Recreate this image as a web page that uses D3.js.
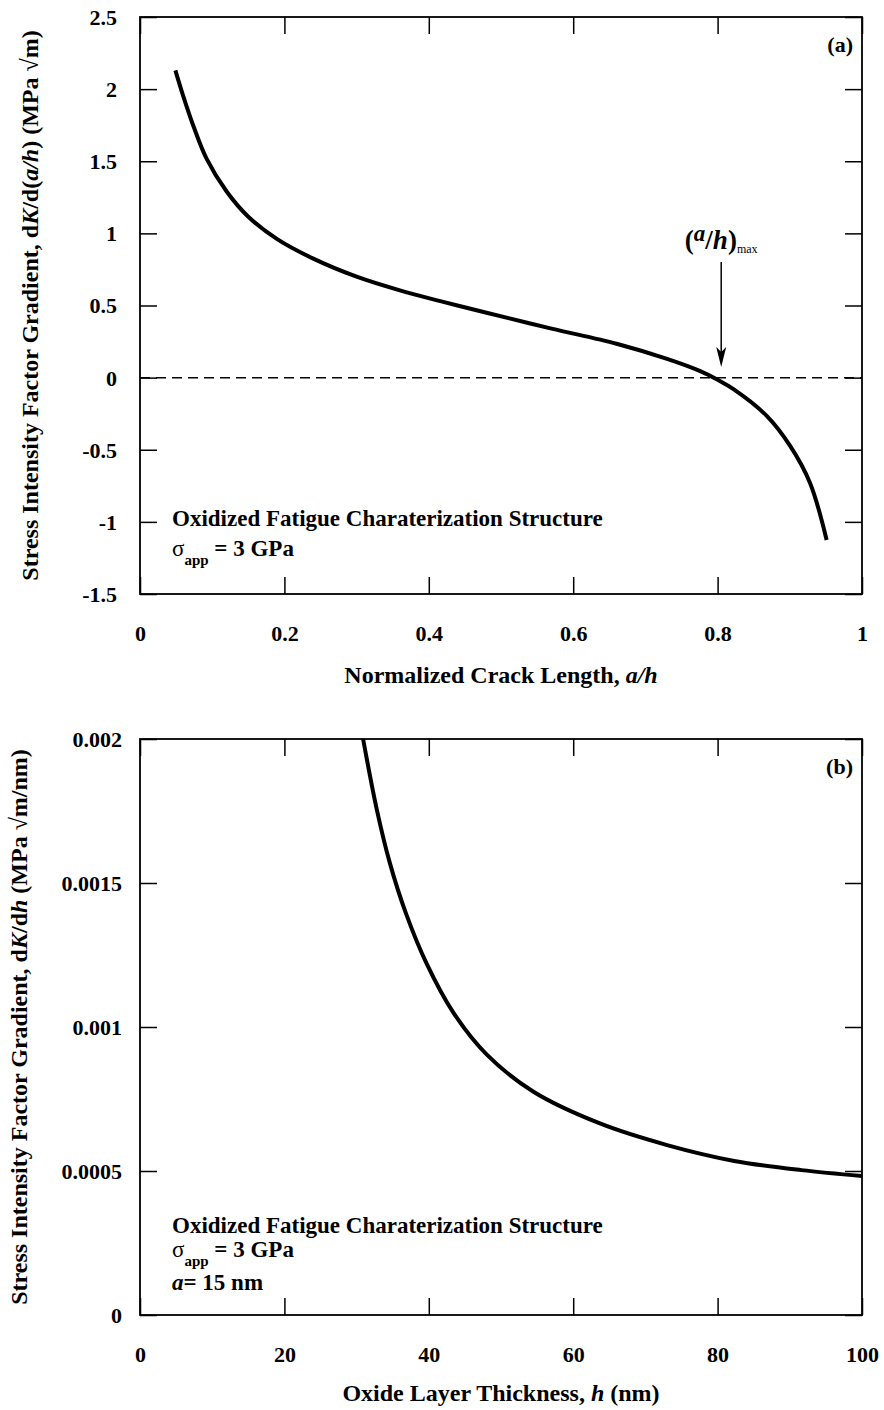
<!DOCTYPE html>
<html>
<head>
<meta charset="utf-8">
<script src="https://cdn.jsdelivr.net/npm/d3@7"></script>
<style>
  body { margin: 0; background: #fff; }
  svg text { font-family: "Liberation Serif", "Times New Roman", serif; font-weight: bold; fill: #000; }
</style>
</head>
<body>
<svg id="fig" width="884" height="1410"></svg>
<script>
// panel (a): dK/d(a/h) versus a/h
let crackLen = [0.049, 0.06, 0.075, 0.092, 0.12, 0.15, 0.19, 0.24, 0.30, 0.36, 0.42,
    0.48, 0.57, 0.66, 0.73, 0.776, 0.80, 0.822, 0.868, 0.90, 0.928, 0.951];
let gradA = [2.13, 1.95, 1.73, 1.52, 1.29, 1.115, 0.96, 0.825, 0.70, 0.605, 0.525,
    0.45, 0.34, 0.235, 0.13, 0.045, -0.015, -0.08, -0.265, -0.47, -0.73, -1.125];
let xTicksA = [0, 0.2, 0.4, 0.6, 0.8, 1];
let xLabelsA = ["0", "0.2", "0.4", "0.6", "0.8", "1"];
let yTicksA = [-1.5, -1, -0.5, 0, 0.5, 1, 1.5, 2, 2.5];
let yLabelsA = ["-1.5", "-1", "-0.5", "0", "0.5", "1", "1.5", "2", "2.5"];
let aMax = 0.805;

// panel (b): dK/dh versus h
let thickness = [30.9, 32.8, 34.6, 36.9, 39.7, 43.4, 48.0, 54.5, 63.7, 73, 82.3, 91.6, 100];
let gradB = [0.00200, 0.001755, 0.00157, 0.00139, 0.00122, 0.00105, 0.000905,
    0.000775, 0.000665, 0.000590, 0.000535, 0.000503, 0.000483];
let xTicksB = [0, 20, 40, 60, 80, 100];
let xLabelsB = ["0", "20", "40", "60", "80", "100"];
let yTicksB = [0, 0.0005, 0.001, 0.0015, 0.002];
let yLabelsB = ["0", "0.0005", "0.001", "0.0015", "0.002"];

let svg = d3.select("#fig");
let tickLen = 17;

function drawPanel(opt){
    let g = svg.append("g").attr("transform", "translate(" + opt.left + "," + opt.top + ")");
    let w = opt.right - opt.left;
    let h = opt.bottom - opt.top;

    let x = d3.scaleLinear().domain(opt.xDomain).range([0, w]);
    let y = d3.scaleLinear().domain(opt.yDomain).range([h, 0]);

    let xFmt = d => opt.xLabels[opt.xTicks.indexOf(d)];
    let yFmt = d => opt.yLabels[opt.yTicks.indexOf(d)];

    // inward ticks on all four sides
    let axB = g.append("g").attr("transform", "translate(0," + h + ")")
        .call(d3.axisBottom(x).tickValues(opt.xTicks).tickSize(-tickLen).tickSizeOuter(0)
            .tickFormat(xFmt));
    axB.selectAll("text").attr("y", opt.xLabelY).attr("dy", null).style("font-size", "22px");

    g.append("g")
        .call(d3.axisTop(x).tickValues(opt.xTicks).tickSize(-tickLen).tickSizeOuter(0).tickFormat(""));

    let axL = g.append("g")
        .call(d3.axisLeft(y).tickValues(opt.yTicks).tickSize(-tickLen).tickSizeOuter(0)
            .tickFormat(yFmt));
    axL.selectAll("text").attr("x", -opt.yLabelPad).attr("dy", "0.34em").style("font-size", "22px");

    g.append("g").attr("transform", "translate(" + w + ",0)")
        .call(d3.axisRight(y).tickValues(opt.yTicks).tickSize(-tickLen).tickSizeOuter(0).tickFormat(""));

    g.selectAll(".domain").remove();
    g.selectAll(".tick line").attr("stroke", "#000").attr("stroke-width", 1.5);

    g.append("rect")
        .attr("width", w).attr("height", h)
        .attr("fill", "none").attr("stroke", "#000").attr("stroke-width", 1.8);

    if (opt.zeroLine){
        g.append("line")
            .attr("x1", 0).attr("x2", w)
            .attr("y1", y(0)).attr("y2", y(0))
            .attr("stroke", "#000").attr("stroke-width", 1.5)
            .attr("stroke-dasharray", "10,6");
    }

    let line = d3.line()
        .x(d => x(d[0]))
        .y(d => y(d[1]))
        .curve(d3.curveCatmullRom.alpha(0.5));

    g.append("path")
        .datum(d3.zip(opt.xs, opt.ys))
        .attr("d", line)
        .attr("fill", "none")
        .attr("stroke", "#000")
        .attr("stroke-width", 4);

    // axis titles
    let xt = g.append("text")
        .attr("x", w / 2).attr("y", h + opt.xTitleY)
        .attr("text-anchor", "middle").style("font-size", "24px");
    opt.xTitle(xt);

    let yt = svg.append("text")
        .attr("transform", "translate(" + opt.yTitleX + "," + (opt.top + h / 2) + ") rotate(-90)")
        .attr("text-anchor", "middle").style("font-size", "24px");
    opt.yTitle(yt);

    g.append("text")
        .attr("x", w - 9).attr("y", 35)
        .attr("text-anchor", "end").style("font-size", "22px")
        .text(opt.tag);

    return {g: g, x: x, y: y};
}

function addNote(g, lines){
    for (let l of lines){
        let t = g.append("text").attr("x", 32).attr("y", l.y).style("font-size", "23px");
        l.draw(t);
    }
}

function sigmaLine(t){
    t.append("tspan").text("σ").style("font-weight", "normal");
    t.append("tspan").text("app").style("font-size", "15px").attr("dy", 9);
    t.append("tspan").text(" = 3 GPa").attr("dy", -9);
}

// ----- panel (a)
let pa = drawPanel({
    left: 140, right: 862, top: 17, bottom: 594,
    xDomain: [0, 1], yDomain: [-1.5, 2.5],
    xTicks: xTicksA, xLabels: xLabelsA, yTicks: yTicksA, yLabels: yLabelsA,
    xLabelY: 47, yLabelPad: 23, xTitleY: 89, yTitleX: 38,
    xs: crackLen, ys: gradA, zeroLine: true, tag: "(a)",
    xTitle: t => {
        t.append("tspan").text("Normalized Crack Length, ");
        t.append("tspan").text("a/h").style("font-style", "italic");
    },
    yTitle: t => {
        t.append("tspan").text("Stress Intensity Factor Gradient, d");
        t.append("tspan").text("K").style("font-style", "italic");
        t.append("tspan").text("/d(");
        t.append("tspan").text("a/h").style("font-style", "italic");
        t.append("tspan").text(") (MPa √m)");
    }
});

addNote(pa.g, [
    {y: 509, draw: t => t.text("Oxidized Fatigue Charaterization Structure")},
    {y: 539, draw: sigmaLine}
]);

// (a/h)max marker
let ax = pa.x(aMax);
let lab = pa.g.append("text")
    .attr("x", ax).attr("y", 232)
    .attr("text-anchor", "middle").style("font-size", "27px");
lab.append("tspan").text("(");
lab.append("tspan").text("a").style("font-style", "italic").style("font-size", "23px").attr("dy", -8);
lab.append("tspan").text("/").attr("dy", 8);
lab.append("tspan").text("h").style("font-style", "italic");
lab.append("tspan").text(")");
lab.append("tspan").text("max").style("font-size", "12px").style("font-weight", "normal").attr("dy", 4);

pa.g.append("line")
    .attr("x1", ax).attr("x2", ax)
    .attr("y1", 245).attr("y2", 335)
    .attr("stroke", "#000").attr("stroke-width", 1.5);
pa.g.append("path")
    .attr("d", "M" + (ax - 5) + ",330 L" + ax + ",350 L" + (ax + 5) + ",330 L" + ax + ",335 Z")
    .attr("fill", "#000");

// ----- panel (b)
let pb = drawPanel({
    left: 140, right: 862, top: 739, bottom: 1315,
    xDomain: [0, 100], yDomain: [0, 0.002],
    xTicks: xTicksB, xLabels: xLabelsB, yTicks: yTicksB, yLabels: yLabelsB,
    xLabelY: 47, yLabelPad: 18, xTitleY: 86, yTitleX: 27,
    xs: thickness, ys: gradB, zeroLine: false, tag: "(b)",
    xTitle: t => {
        t.append("tspan").text("Oxide Layer Thickness, ");
        t.append("tspan").text("h").style("font-style", "italic");
        t.append("tspan").text(" (nm)");
    },
    yTitle: t => {
        t.append("tspan").text("Stress Intensity Factor Gradient, d");
        t.append("tspan").text("K").style("font-style", "italic");
        t.append("tspan").text("/d");
        t.append("tspan").text("h").style("font-style", "italic");
        t.append("tspan").text(" (MPa √m/nm)");
    }
});

addNote(pb.g, [
    {y: 494, draw: t => t.text("Oxidized Fatigue Charaterization Structure")},
    {y: 518, draw: sigmaLine},
    {y: 551, draw: t => {
        t.append("tspan").text("a").style("font-style", "italic");
        t.append("tspan").text("= 15 nm");
    }}
]);
</script>
</body>
</html>
